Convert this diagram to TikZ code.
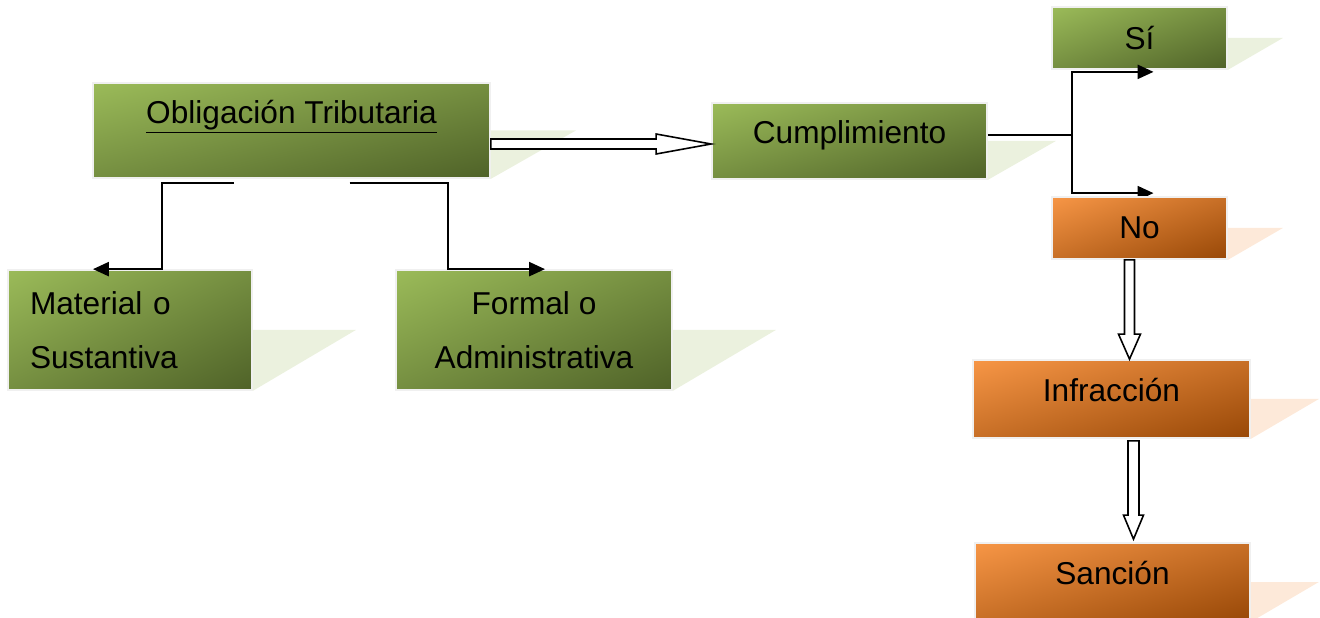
\documentclass[tikz,border=0pt]{standalone}
\usepackage{fontspec}
\setmainfont{Liberation Sans}
\usepackage{xcolor}
\definecolor{greenlight}{HTML}{9BBB59}
\definecolor{greendark}{HTML}{4F6228}
\colorlet{greenmid}{greenlight!50!greendark}
\definecolor{greenshade}{HTML}{EBF1DE}
\definecolor{orangelight}{HTML}{F79646}
\definecolor{orangedark}{HTML}{984807}
\colorlet{orangemid}{orangelight!50!orangedark}
\definecolor{orangeshade}{HTML}{FDE9D9}
\usetikzlibrary{arrows.meta,calc,positioning,backgrounds,shadings}

\begin{document}
\begin{tikzpicture}[
        x=0.02cm, y=-0.02cm,
        box/.style={rectangle, draw=black!6, line width=1pt, font=\fontsize{18}{31}\selectfont, align=center, inner sep=2pt},
        greenbox/.style={box, upper left=greenlight, upper right=greenmid, lower left=greenmid, lower right=greendark},
        orangebox/.style={box, upper left=orangelight, upper right=orangemid, lower left=orangemid, lower right=orangedark},
        link/.style={line width=1.1pt, -{Triangle[length=9pt,width=8pt]}},
        hollow/.style={draw=black, fill=white, line width=0.9pt, line join=miter}
    ]
        \useasboundingbox (0,0) rectangle (1320,618);
        \clip (0,0) rectangle (1320,618);

        % boxes
        \node[greenbox, minimum width=7.94cm, minimum height=1.9cm, text depth=21pt] (oblig) at (291.5,130.5) {\underline{Obligación Tributaria}};
        \node[greenbox, minimum width=4.88cm, minimum height=2.4cm, text width=4cm, inner xsep=0.44cm, align=left] (mat) at (130,330) {Material o\\Sustantiva};
        \node[greenbox, minimum width=5.52cm, minimum height=2.4cm] (form) at (534,330) {Formal o\\Administrativa};
        \node[greenbox, minimum width=5.5cm, minimum height=1.52cm, text depth=10pt] (cump) at (849.5,141) {Cumplimiento};
        \node[greenbox, minimum width=3.5cm, minimum height=1.24cm] (si) at (1139.5,38) {Sí};
        \node[orangebox, minimum width=3.5cm, minimum height=1.24cm] (no) at (1139.5,228) {No};
        \node[orangebox, minimum width=5.54cm, minimum height=1.56cm, text depth=10pt] (infr) at (1111.5,399) {Infracción};
        \node[orangebox, minimum width=5.5cm, minimum height=1.56cm, text depth=10pt] (sanc) at (1112.5,582) {Sanción};

        % shadows
        \foreach \n/\d/\c in {oblig/85/greenshade, mat/103/greenshade, form/103/greenshade, cump/68/greenshade, si/55/greenshade, no/55/orangeshade, infr/68/orangeshade, sanc/68/orangeshade}
            \fill[\c] (\n.east) -- ++(\d,0) -- (\n.south east) -- cycle;

        % connectors
        \draw[link] ($(oblig.south)+(-58,4)$) -| ($(mat.north)+(32,0)$) -- ($(mat.north)+(-37,0)$);
        \draw[link] ($(oblig.south)+(58,4)$) -| ($(form.north)+(-86,0)$) -- ($(form.north)+(11,0)$);

        \coordinate (split) at ($(cump.east)+(84,-6)$);
        \draw[line width=1.1pt] ($(cump.east)+(0,-6)$) -- (split);
        \draw[link] (split) |- ($(si.south)+(14,2)$);
        \begin{scope}[on background layer]
            \draw[link] (split) |- ($(no.north)+(14,-3)$);
        \end{scope}

        % hollow arrows
        \coordinate (ha) at ($(cump.west)+(0,3)$);
        \draw[hollow] ($(oblig.east |- ha)+(0,-5)$) -- ($(ha)+(-55,-5)$) -- ($(ha)+(-55,-10)$) -- (ha) -- ($(ha)+(-55,10)$) -- ($(ha)+(-55,5)$) -- ($(oblig.east |- ha)+(0,5)$) -- cycle;

        \coordinate (va) at ($(no.south)+(-10,0)$);
        \coordinate (vb) at (va |- infr.north);
        \draw[hollow] ($(va)+(-5,0)$) -- ($(vb)+(-5,-25)$) -- ($(vb)+(-11,-25)$) -- (vb) -- ($(vb)+(11,-25)$) -- ($(vb)+(5,-25)$) -- ($(va)+(5,0)$) -- cycle;

        \coordinate (vc) at ($(infr.south)+(22,2)$);
        \coordinate (vd) at ($(vc |- sanc.north)+(0,-3)$);
        \draw[hollow] ($(vc)+(-5.5,0)$) -- ($(vd)+(-5.5,-24)$) -- ($(vd)+(-10,-24)$) -- (vd) -- ($(vd)+(10,-24)$) -- ($(vd)+(5.5,-24)$) -- ($(vc)+(5.5,0)$) -- cycle;
    \end{tikzpicture}
\end{document}
